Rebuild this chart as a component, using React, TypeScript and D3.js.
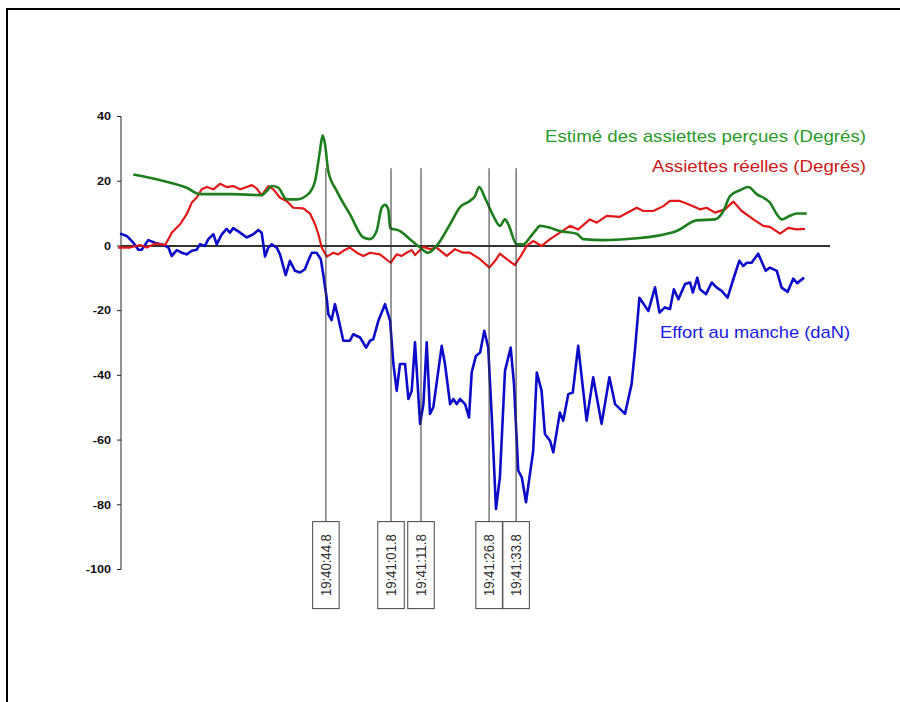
import React from 'react';
import * as d3 from 'd3';

// Time (s, arbitrary record scale) and values
const effortData: [number, number][] = [
  [0.7, 3.8], [2.9, 3.1], [5.1, 1.0], [6.8, -1.2], [7.9, -1.2], [10.1, 1.8], [12.3, 1.0], [15.1, 0.3],
  [16.8, -0.5], [17.9, -3.1], [19.6, -1.3], [21.2, -2.1], [22.9, -2.6], [24.6, -1.5], [26.2, -1.2],
  [27.3, 0.5], [29, 0], [30.1, 2.1], [31.8, 3.6], [32.9, 0.5], [34.6, 3.6], [36.2, 5.3], [37.3, 4.1],
  [38.4, 5.5], [40.7, 4.1], [42.9, 2.6], [45.1, 3.6], [46.8, 4.9], [47.9, 4.1], [49, -3.3], [50.1, -0.5],
  [51.2, 0.5], [52.9, -0.5], [54, -2.6], [55.9, -9.0], [57.3, -4.6], [59, -7.7], [60.7, -8.2], [62.3, -7.2],
  [63.4, -4.6], [64.6, -2.1], [66.2, -2.1], [67.6, -4.1], [68.4, -8.7], [69.6, -16.4], [70.1, -21.1],
  [71.2, -22.9], [72.3, -18.0], [73.4, -22.1], [75.1, -29.3], [77.3, -29.3], [78.4, -27.3], [80.7, -28.3],
  [82.7, -31.4], [84, -29.3], [85.1, -28.8], [86.8, -23.1], [89, -18.0], [90.7, -23.1], [91.8, -36.5],
  [92.9, -44.8], [94, -36.5], [95.7, -36.5], [96.8, -47.3], [97.9, -44.8], [99, -29.8], [99.6, -38.6],
  [100.7, -55.0], [101.8, -48.9], [102.9, -29.8], [103.4, -39.6], [104, -51.9], [105.1, -49.9],
  [107.9, -30.9], [109, -36.5], [110.7, -48.9], [111.8, -47.3], [112.9, -48.9], [114, -47.3], [115.7, -48.9],
  [117, -53.0], [117.9, -39.1], [119.3, -34.0], [120.7, -32.9], [122.1, -26.2], [123.4, -31.4], [124.6, -53.0],
  [126, -81.3], [127.3, -71.5], [129, -38.6], [130.9, -31.4], [132, -42.7], [133.4, -69.4], [134.6, -71.5],
  [136, -79.2], [138.4, -63.3], [139.6, -39.1], [141.2, -44.8], [142.3, -58.1], [144, -60.2], [145.1, -63.8],
  [147.3, -51.5], [148.4, -54.0], [150.1, -45.8], [151.6, -45.3], [153.4, -30.9], [156.2, -54.0],
  [158.4, -40.6], [161.2, -55.0], [163.8, -40.6], [165.7, -48.9], [169, -51.9], [171.2, -42.7], [172.3, -32.4],
  [173.8, -16.0], [176.8, -20.1], [179, -12.8], [180.5, -20.6], [182.3, -19.0], [184, -19.5], [185.3, -13.4],
  [186.8, -16.5], [189, -11.8], [190.7, -11.3], [191.6, -14.4], [193.1, -9.8], [194, -13.4], [196, -14.9],
  [197.9, -11.3], [199.6, -12.9], [201.2, -13.9], [203.2, -16.0], [205.1, -10.3], [207.1, -4.6], [208.4, -6.2],
  [209.6, -5.2], [211.2, -5.2], [213.4, -2.4], [215.9, -7.7], [217.3, -6.7], [219.6, -7.7], [221.2, -12.9],
  [223.2, -14.2], [225.1, -10.1], [226.4, -11.5], [228.7, -9.8],
];

const assietteReelleData: [number, number][] = [
  [0, -0.5], [4, -0.5], [7.3, 0.3], [9.6, -0.5], [12.3, 0.7], [15.7, 0.3], [16.8, 2.1], [17.9, 4.1],
  [20.7, 6.7], [22.9, 9.8], [24.6, 13.4], [26.2, 14.9], [27.9, 17.5], [29.6, 18.2], [31.8, 17.5], [34, 19.2],
  [36.2, 18.2], [38.4, 18.5], [40.7, 17.5], [42.9, 18.2], [44.6, 18.8], [46.2, 17.8], [47.9, 15.6],
  [50.1, 18.5], [51.8, 17.5], [54, 14.9], [56.2, 13.9], [58.4, 11.8], [61.8, 11.6], [64, 10.0], [65.7, 6.7],
  [66.8, 3.6], [67.9, -0.5], [69.6, -3.3], [71.8, -2.1], [73.4, -2.6], [75.1, -1.5], [77.3, -0.5],
  [79.6, -2.1], [81.8, -3.1], [84, -2.1], [87.3, -2.6], [90.9, -5.2], [92.9, -2.6], [94.6, -3.1],
  [96.2, -2.1], [97.9, -1.3], [99, -2.8], [101.8, -0.3], [104, -1.0], [106.2, -0.5], [109.6, -3.1],
  [112.3, -1.0], [115.1, -2.1], [117.3, -2.1], [120.7, -4.1], [123.8, -6.7], [125.7, -4.6], [127.3, -2.4],
  [129.6, -4.1], [132.3, -5.9], [134.6, -2.6], [136.2, 0], [138.4, 1.5], [141.2, 0], [144, 2.1], [147.3, 4.1],
  [150.7, 6.2], [153.4, 5.1], [157.3, 8.2], [159.6, 7.2], [162.9, 9.3], [167.3, 9.0], [172.9, 11.8],
  [175.1, 10.8], [178.4, 10.8], [181.8, 12.3], [184, 13.9], [187.3, 13.9], [190.1, 12.9], [194, 11.3],
  [196.2, 11.8], [199, 10.3], [202.3, 11.3], [205.1, 13.7], [207.9, 10.8], [211.8, 8.2], [215.1, 6.2],
  [217.3, 5.9], [220.7, 3.8], [223.4, 5.6], [226.2, 5.1], [229, 5.3],
];

const assietteEstimeeData: [number, number][] = [
  [5.1, 22.1], [15.1, 20.1], [22.9, 18.0], [27.3, 16.0], [37.3, 16.0], [47.9, 15.7], [49.6, 17.0],
  [51.2, 18.5], [53.4, 18.0], [56.2, 14.4], [59.6, 14.4], [63.4, 16.0], [65.7, 20.1], [67.3, 29.3],
  [68.2, 34.2], [69, 31.4], [70.1, 23.1], [72.9, 17.0], [77.3, 9.8], [81.8, 2.6], [84, 2.1], [86.2, 4.6],
  [87.9, 11.8], [89, 12.7], [90.1, 11.3], [90.7, 5.6], [94, 4.6], [97.3, 2.1], [100.7, -0.5], [103.4, -2.1],
  [106.2, 0], [110.7, 6.7], [114, 12.0], [117.3, 13.9], [119, 15.4], [120.4, 18.2], [122.3, 14.9],
  [125.1, 9.3], [127.3, 6.2], [129, 8.2], [130.1, 6.7], [132.9, 0.5], [135.1, 0.5], [137.3, 2.6],
  [139, 4.6], [140.7, 6.2], [144, 5.6], [147.3, 4.6], [152.9, 3.8], [155.1, 2.1], [161.8, 1.8], [171.8, 2.3],
  [179.6, 3.1], [186.2, 4.6], [192.9, 7.9], [199, 8.2], [201.8, 10.8], [204, 15.4], [207.3, 17.2],
  [210.1, 18.2], [212.9, 16.0], [217.3, 13.4], [219.6, 9.8], [221.2, 8.2], [224, 9.3], [226.2, 10.0],
  [229.6, 10.0],
];

const markerTimes = [69.3, 91, 101, 123.7, 132.7];
const markerLabels = ['19:40:44.8', '19:41:01.8', '19:41:11.8', '19:41:26.8', '19:41:33.8'];
const yTicks = [40, 20, 0, -20, -40, -60, -80, -100];
const seriesNames = ['Estimé des assiettes perçues (Degrés)', 'Assiettes réelles (Degrés)', 'Effort au manche (daN)'];

export default function App() {
  const x = d3.scaleLinear().domain([0, 230]).range([118, 808]);
  const y = d3.scaleLinear().domain([-100, 40]).range([569.5, 116.5]);
  const axisX = 121;

  const linear = d3.line<[number, number]>().x(d => x(d[0])).y(d => y(d[1]));
  const smooth = d3.line<[number, number]>().x(d => x(d[0])).y(d => y(d[1])).curve(d3.curveMonotoneX);

  const boxTop = y(-85.2);
  const boxH = 87;
  const boxW = 26.5;

  return (
    <svg width={900} height={702} style={{ position: 'absolute', left: 0, top: 0, background: '#fff' }}
      fontFamily="Arial, 'Liberation Sans', sans-serif">
      <rect x={0} y={0} width={900} height={702} fill="#fff" />
      <rect x={7} y={9} width={1000} height={1000} fill="none" stroke="#000" strokeWidth={2} />

      {/* Y axis */}
      <line x1={axisX} x2={axisX} y1={y(40)} y2={y(-100)} stroke="#222" strokeWidth={1} />
      {yTicks.map(t => (
        <g key={t}>
          <line x1={axisX - 4} x2={axisX} y1={y(t)} y2={y(t)} stroke="#222" strokeWidth={1} />
          <text transform={`translate(111,${y(t)}) scale(1.15,1)`} dy="0.35em" textAnchor="end" fontSize={11}
            fontWeight="bold" fill="#111">{t}</text>
        </g>
      ))}

      {/* zero line */}
      <line x1={axisX} x2={830} y1={y(0)} y2={y(0)} stroke="#333" strokeWidth={2} />

      {/* series */}
      <path d={linear(effortData) || ''} fill="none" stroke="#0c0cc8" strokeWidth={2.6} strokeLinejoin="round" />
      <path d={linear(assietteReelleData) || ''} fill="none" stroke="#e01818" strokeWidth={2.2} strokeLinejoin="round" />
      <path d={smooth(assietteEstimeeData) || ''} fill="none" stroke="#1e7e1e" strokeWidth={2.6} strokeLinejoin="round" />

      {/* markers */}
      {markerTimes.map((t, i) => {
        const cx = x(t);
        return (
          <g key={i}>
            <line x1={cx} x2={cx} y1={y(24)} y2={boxTop} stroke="#333" strokeWidth={1} />
            <rect x={cx - boxW / 2} y={boxTop} width={boxW} height={boxH} fill="#fff" stroke="#444" strokeWidth={1} />
            <text transform={`translate(${cx},${boxTop + boxH / 2}) rotate(-90)`} textAnchor="middle" dy="0.36em"
              fontSize={14.5} fill="#333" textLength={62} lengthAdjust="spacingAndGlyphs">{markerLabels[i]}</text>
          </g>
        );
      })}

      {/* labels */}
      <text x={866} y={141.5} textAnchor="end" fontSize={17} fill="#2a9a2a" textLength={321}
        lengthAdjust="spacingAndGlyphs">{seriesNames[0]}</text>
      <text x={866} y={171.5} textAnchor="end" fontSize={17} fill="#cc1818" textLength={214}
        lengthAdjust="spacingAndGlyphs">{seriesNames[1]}</text>
      <text x={660} y={338} textAnchor="start" fontSize={17} fill="#1a1ae0" textLength={190}
        lengthAdjust="spacingAndGlyphs">{seriesNames[2]}</text>
    </svg>
  );
}
